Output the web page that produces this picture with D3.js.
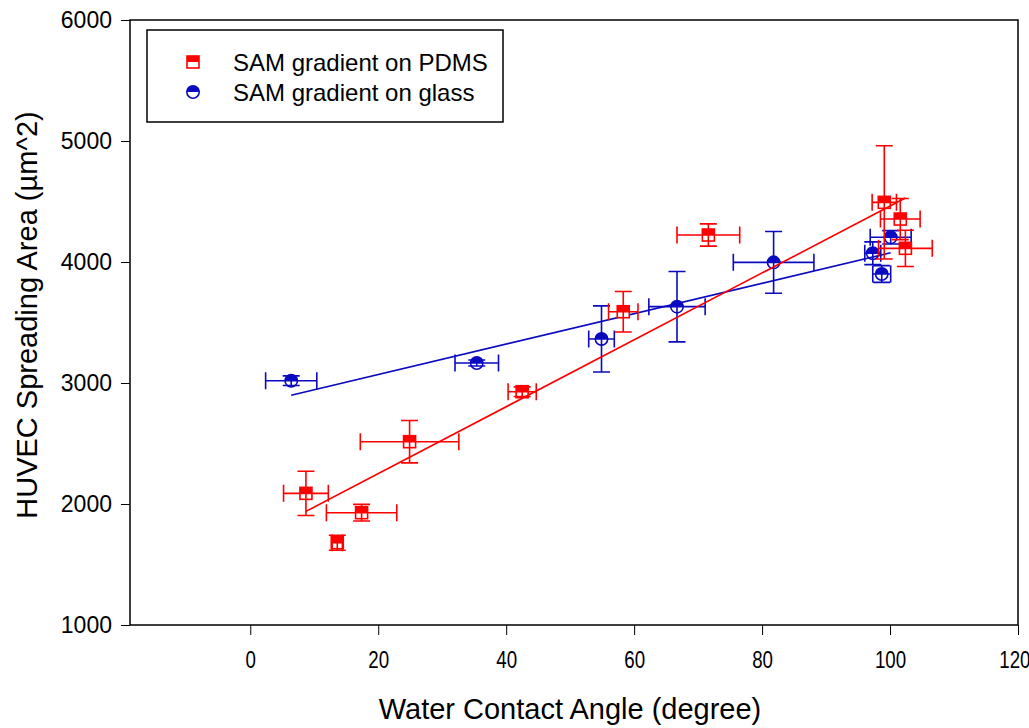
<!DOCTYPE html>
<html>
<head>
<meta charset="utf-8">
<script src="https://cdn.jsdelivr.net/npm/d3@7"></script>
<style>
  html, body { margin: 0; padding: 0; background: #fff; }
  svg { display: block; font-family: "Liberation Sans", Arial, sans-serif; }
</style>
</head>
<body>
<svg id="chart" width="1029" height="728"></svg>
<script>
// HUVEC spreading area vs. water contact angle, two SAM gradient substrates

// SAM gradient on PDMS
const pdmsAngle    = [8.7, 17.4, 13.6, 24.9, 42.5, 58.3, 71.6, 99.1, 101.6, 102.4];
const pdmsAngleErr = [3.5, 5.5, 0.8, 7.7, 2.2, 2.3, 4.9, 1.9, 3.1, 4.2];
const pdmsArea     = [2088, 1928, 1680, 2515, 2928, 3589, 4223, 4493, 4355, 4113];
const pdmsAreaErr  = [183, 69, 62, 175, 40, 167, 92, 468, 170, 150];

// SAM gradient on glass
const glassAngle    = [6.4, 35.4, 54.9, 66.7, 81.8, 100.1, 97.3, 98.7];
const glassAngleErr = [4.0, 3.4, 2.0, 4.4, 6.3, 3.2, 1.25, 1.4];
const glassArea     = [3019, 3165, 3364, 3631, 3997, 4204, 4072, 3901];
const glassAreaErr  = [40, 25, 273, 291, 255, 55, 94, 69];

const xTicks = [0, 20, 40, 60, 80, 100, 120];
const yTicks = [1000, 2000, 3000, 4000, 5000, 6000];

const seriesNames = ["SAM gradient on PDMS", "SAM gradient on glass"];
const RED = "#ff0000";
const BLUE = "#0a0ac0";

const svg = d3.select("#chart");
const L = 130, R = 1018, T = 20, B = 625;

const x = d3.scaleLinear().domain([-18.8, 120]).range([L, R]);
const y = d3.scaleLinear().domain([1000, 6000]).range([B, T]);

// axes
const xAxis = svg.append("g")
  .attr("transform", `translate(0,${B})`)
  .call(d3.axisBottom(x).tickValues(xTicks).tickFormat(d3.format("d"))
    .tickSize(10).tickSizeOuter(0).tickPadding(16));
xAxis.select(".domain").remove();
xAxis.selectAll("line").attr("stroke", "#000").attr("stroke-width", 1);
// condensed tick numerals; the last one is kept inside the page edge
xAxis.selectAll("text")
  .attr("font-size", 24).attr("fill", "#000")
  .attr("font-family", "Liberation Sans, Arial, sans-serif")
  .attr("transform", "scale(0.78,1)");
xAxis.selectAll(".tick").filter(d => d === xTicks[xTicks.length - 1]).select("text")
  .attr("text-anchor", "end").attr("x", 12 / 0.78);

const yAxis = svg.append("g")
  .attr("transform", `translate(${L},0)`)
  .call(d3.axisLeft(y).tickValues(yTicks).tickFormat(d3.format("d"))
    .tickSize(9).tickSizeOuter(0).tickPadding(9));
yAxis.select(".domain").remove();
yAxis.selectAll("line").attr("stroke", "#000").attr("stroke-width", 1);
yAxis.selectAll("text").attr("font-size", 23).attr("fill", "#000")
  .attr("font-family", "Liberation Sans, Arial, sans-serif");

// plot frame
svg.append("rect")
  .attr("x", L).attr("y", T).attr("width", R - L).attr("height", B - T)
  .attr("fill", "none").attr("stroke", "#000").attr("stroke-width", 1.5);

// axis titles
svg.append("text")
  .attr("x", 570).attr("y", 719)
  .attr("text-anchor", "middle").attr("font-size", 29)
  .text("Water Contact Angle (degree)");

svg.append("text")
  .attr("transform", "translate(37,315) rotate(-90)")
  .attr("text-anchor", "middle").attr("font-size", 29)
  .text("HUVEC Spreading Area (\u00b5m^2)");

// least-squares fit drawn over the x-range of the data
function fitLine(xs, ys) {
  const mx = d3.mean(xs), my = d3.mean(ys);
  let sxy = 0, sxx = 0;
  xs.forEach((v, i) => { sxy += (v - mx) * (ys[i] - my); sxx += (v - mx) * (v - mx); });
  const m = sxy / sxx, b = my - m * mx;
  const x0 = d3.min(xs), x1 = d3.max(xs);
  return [[x0, m * x0 + b], [x1, m * x1 + b]];
}

const line = d3.line().x(d => x(d[0])).y(d => y(d[1]));

// markers with top half filled
function squareMarker(g, cx, cy, color) {
  const s = 12;
  g.append("rect").attr("x", cx - s / 2).attr("y", cy - s / 2).attr("width", s).attr("height", s)
    .attr("fill", "#fff").attr("stroke", color).attr("stroke-width", 1.6);
  g.append("rect").attr("x", cx - s / 2).attr("y", cy - s / 2).attr("width", s).attr("height", s / 2)
    .attr("fill", color);
}
function circleMarker(g, cx, cy, color) {
  const r = 6.2;
  g.append("circle").attr("cx", cx).attr("cy", cy).attr("r", r)
    .attr("fill", "#fff").attr("stroke", color).attr("stroke-width", 1.6);
  g.append("path")
    .attr("d", `M${cx - r},${cy} A${r},${r} 0 0 1 ${cx + r},${cy} Z`)
    .attr("fill", color);
}

function drawSeries(xs, xe, ys, ye, color, marker) {
  const g = svg.append("g");
  xs.forEach((v, i) => marker(g, x(v), y(ys[i]), color));
  const cap = 8.5;
  const eb = svg.append("g").attr("stroke", color).attr("stroke-width", 1.6).attr("fill", "none");
  xs.forEach((v, i) => {
    const cx = x(v), cy = y(ys[i]);
    const xa = x(v - xe[i]), xb = x(v + xe[i]);
    const ya = y(ys[i] - ye[i]), yb = y(ys[i] + ye[i]);
    eb.append("path").attr("d",
      `M${xa},${cy}H${xb}M${xa},${cy - cap}V${cy + cap}M${xb},${cy - cap}V${cy + cap}` +
      `M${cx},${ya}V${yb}M${cx - cap},${ya}H${cx + cap}M${cx - cap},${yb}H${cx + cap}`);
  });
  svg.append("path").datum(fitLine(xs, ys)).attr("d", line)
    .attr("stroke", color).attr("stroke-width", 1.6).attr("fill", "none");
}

drawSeries(glassAngle, glassAngleErr, glassArea, glassAreaErr, BLUE, circleMarker);
drawSeries(pdmsAngle, pdmsAngleErr, pdmsArea, pdmsAreaErr, RED, squareMarker);

// legend
const lg = svg.append("g");
lg.append("rect").attr("x", 147).attr("y", 30).attr("width", 356).attr("height", 92)
  .attr("fill", "#fff").attr("stroke", "#000").attr("stroke-width", 1.5);
squareMarker(lg, 193, 62, RED);
circleMarker(lg, 193, 92, BLUE);
seriesNames.forEach((name, i) => {
  lg.append("text").attr("x", 233).attr("y", 62 + i * 30).attr("dy", "0.36em")
    .attr("font-size", 24).attr("fill", "#000").text(name);
});
</script>
</body>
</html>
